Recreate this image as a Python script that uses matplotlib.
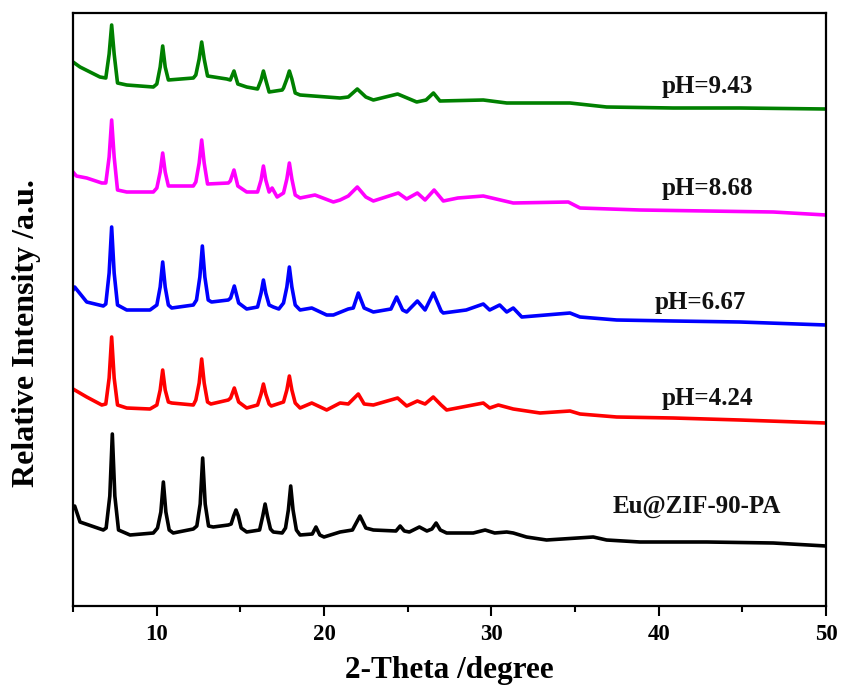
import matplotlib
matplotlib.use("Agg")
import matplotlib.pyplot as plt
from matplotlib.ticker import MultipleLocator

# XRD profiles (2-theta in degrees, intensity in a.u. above each trace's own tail)
black_x = [5.0, 5.1, 5.42, 6.81, 6.98, 7.2, 7.35, 7.5, 7.72, 8.41, 9.8, 10.05, 10.25, 10.4, 10.55, 10.75,
           10.99, 12.19, 12.4, 12.6, 12.75, 12.9, 13.1, 13.38, 14.28, 14.45, 14.6, 14.74, 14.88, 15.05,
           15.38, 16.15, 16.34, 16.48, 16.62, 16.8, 16.97, 17.5, 17.7, 17.87, 18.01, 18.15, 18.35, 18.57,
           19.3, 19.52, 19.75, 20.0, 20.96, 21.7, 22.15, 22.5, 22.95, 24.3, 24.55, 24.8, 25.1, 25.7,
           26.15, 26.45, 26.7, 26.95, 27.33, 28.92, 29.63, 30.2, 30.92, 31.31, 32.1, 33.3, 36.09, 36.89,
           38.88, 42.87, 46.85, 50.0]
black_y = [38, 40, 24, 16, 18, 50, 112, 50, 16, 11, 13, 18, 34, 64, 34, 16,
           13, 17, 20, 42, 88, 42, 20, 19, 21, 22, 30, 36, 30, 18,
           14, 16, 30, 42, 30, 17, 14, 13, 18, 36, 60, 36, 16, 11,
           12, 19, 11, 9, 14, 16, 30, 18, 16, 15, 20, 15, 14, 19,
           15, 17, 23, 16, 13, 13, 16, 13, 14, 13, 9, 6, 9, 6,
           4, 4, 3, 0]

red_x = [5.0, 5.82, 6.72, 6.96, 7.16, 7.31, 7.46, 7.66, 8.21, 9.6, 10.01, 10.21, 10.36, 10.51, 10.7, 10.9,
         12.19, 12.34, 12.54, 12.69, 12.84, 13.04, 13.24, 14.28, 14.42, 14.64, 14.9, 15.38, 16.03, 16.24,
         16.38, 16.52, 16.72, 16.85, 17.58, 17.78, 17.93, 18.08, 18.28, 18.57, 19.27, 20.16, 20.96,
         21.45, 22.05, 22.4, 22.95, 24.4, 24.94, 25.58, 26.04, 26.53, 27.0, 27.33, 29.52, 29.9, 30.42,
         31.31, 32.91, 34.7, 35.3, 37.49, 40.87, 44.86, 50.0]
red_y = [34, 26, 18, 19, 45, 86, 45, 18, 15, 14, 18, 33, 53, 33, 21, 20,
         18, 23, 40, 64, 40, 21, 19, 23, 25, 35, 21, 15, 18, 29,
         39, 29, 19, 17, 21, 33, 47, 33, 20, 15, 20, 13, 20,
         19, 29, 19, 18, 25, 17, 22, 19, 26, 18, 13, 20, 15, 18,
         14, 10, 12, 9, 6, 5, 3, 0]

blue_x = [5.0, 5.1, 5.82, 6.81, 6.96, 7.16, 7.31, 7.46, 7.66, 8.21, 9.6, 10.01, 10.21, 10.36, 10.51, 10.7,
          10.9, 12.19, 12.38, 12.58, 12.73, 12.88, 13.08, 13.28, 14.28, 14.42, 14.64, 14.9, 15.38, 16.03,
          16.24, 16.38, 16.52, 16.72, 16.97, 17.3, 17.58, 17.78, 17.93, 18.08, 18.28, 18.57, 19.27, 20.16,
          20.56, 21.45, 21.75, 22.05, 22.4, 22.95, 24.0, 24.34, 24.7, 24.94, 25.58, 26.04, 26.54, 27.0,
          27.13, 28.5, 29.52, 29.9, 30.5, 30.92, 31.31, 31.82, 34.7, 35.3, 37.49, 40.87, 44.86, 50.0]
blue_y = [35, 38, 23, 19, 21, 52, 98, 52, 20, 15, 15, 20, 38, 63, 38, 20,
          17, 20, 25, 48, 79, 48, 25, 23, 25, 27, 39, 22, 16, 18,
          32, 45, 32, 20, 18, 16, 22, 38, 58, 38, 20, 15, 17, 10,
          10, 16, 17, 32, 17, 13, 16, 28, 15, 13, 24, 15, 32, 14,
          12, 15, 21, 15, 20, 13, 17, 8, 12, 8, 5, 4, 3, 0]

magenta_x = [5.0, 5.2, 5.82, 6.72, 6.96, 7.16, 7.31, 7.46, 7.66, 8.21, 9.8, 10.01, 10.21, 10.36, 10.51, 10.7,
             12.19, 12.34, 12.54, 12.69, 12.84, 13.04, 14.28, 14.4, 14.62, 14.85, 15.38, 16.03, 16.24,
             16.38, 16.52, 16.72, 16.9, 17.2, 17.58, 17.78, 17.93, 18.08, 18.28, 18.57, 19.46, 20.56,
             20.96, 21.45, 21.99, 22.5, 22.95, 24.44, 24.94, 25.58, 26.04, 26.58, 27.13, 28.0, 29.52,
             31.31, 34.6, 35.3, 38.88, 42.87, 46.85, 50.0]
magenta_y = [43, 39, 37, 32, 32, 58, 95, 58, 25, 23, 23, 27, 43, 62, 43, 29,
             29, 33, 52, 75, 52, 31, 32, 34, 45, 29, 23, 23, 35,
             49, 35, 23, 27, 18, 22, 36, 52, 36, 20, 17, 20, 13,
             15, 19, 28, 18, 14, 22, 16, 22, 15, 25, 14, 17, 19,
             12, 13, 7, 5, 4, 3, 0]

green_x = [5.0, 5.42, 6.61, 6.96, 7.16, 7.31, 7.46, 7.66, 8.21, 9.8, 10.01, 10.21, 10.36, 10.51, 10.7, 12.19,
           12.34, 12.54, 12.69, 12.84, 13.04, 14.19, 14.4, 14.62, 14.85, 15.38, 16.03, 16.24, 16.38,
           16.52, 16.72, 17.5, 17.58, 17.78, 17.93, 18.08, 18.28, 18.57, 20.16, 20.96, 21.45, 21.99,
           22.5, 22.95, 24.4, 25.54, 26.1, 26.54, 26.93, 29.52, 30.92, 34.7, 36.89, 40.87, 44.86, 50.0]
green_y = [47, 42, 32, 31, 55, 84, 55, 26, 24, 22, 25, 42, 63, 42, 29, 31,
           34, 50, 67, 50, 33, 30, 29, 38, 25, 22, 20, 29, 38,
           29, 17, 19, 21, 30, 38, 30, 16, 14, 12, 11, 12, 20,
           12, 9, 15, 7, 9, 16, 8, 9, 6, 6, 2, 1, 1, 0]

# Bottom-to-top stacking: sample names, colours and vertical offsets
series_names = ["Eu@ZIF-90-PA", "pH=4.24", "pH=6.67", "pH=8.68", "pH=9.43"]
series_x = [black_x, red_x, blue_x, magenta_x, green_x]
series_y = [black_y, red_y, blue_y, magenta_y, green_y]
series_colors = ["#000000", "#ff0000", "#0000ff", "#ff00ff", "#008000"]
offsets = [60, 183, 281, 391, 497]
label_pos = [(37.27, 99), (40.18, 207), (39.78, 303), (40.18, 418), (40.18, 519)]

plt.rcParams["font.family"] = ["Liberation Serif", "DejaVu Serif"]
plt.rcParams["font.weight"] = "bold"

fig = plt.figure(figsize=(8.42, 6.92), dpi=100)
ax = fig.add_axes([73 / 842, 86 / 692, 753 / 842, 593 / 692])

for xs, ys, col, off in zip(series_x, series_y, series_colors, offsets):
    ax.plot(xs, [v + off for v in ys], color=col, lw=2.6, solid_joinstyle="round")

for name, (tx, ty) in zip(series_names, label_pos):
    ax.text(tx, ty, name, fontsize=18, fontweight="bold", ha="left", va="center", color="#111111")

ax.set_xlim(5, 50)
ax.set_ylim(0, 593)
ax.xaxis.set_major_locator(MultipleLocator(10))
ax.xaxis.set_minor_locator(MultipleLocator(5))
ax.set_yticks([])
ax.tick_params(axis="x", which="major", direction="out", length=7, width=1.5, pad=6, labelsize=16.5)
ax.tick_params(axis="x", which="minor", direction="out", length=4, width=1.5)
for lab in ax.get_xticklabels():
    lab.set_fontweight("bold")
for sp in ax.spines.values():
    sp.set_linewidth(1.6)

ax.set_xlabel("2-Theta /degree", fontsize=22.5, fontweight="bold", labelpad=8)
ax.set_ylabel("Relative Intensity /a.u.", fontsize=23, fontweight="bold")
ax.yaxis.set_label_coords(-0.043, 0.46)

fig.savefig("out.png", dpi=100)
